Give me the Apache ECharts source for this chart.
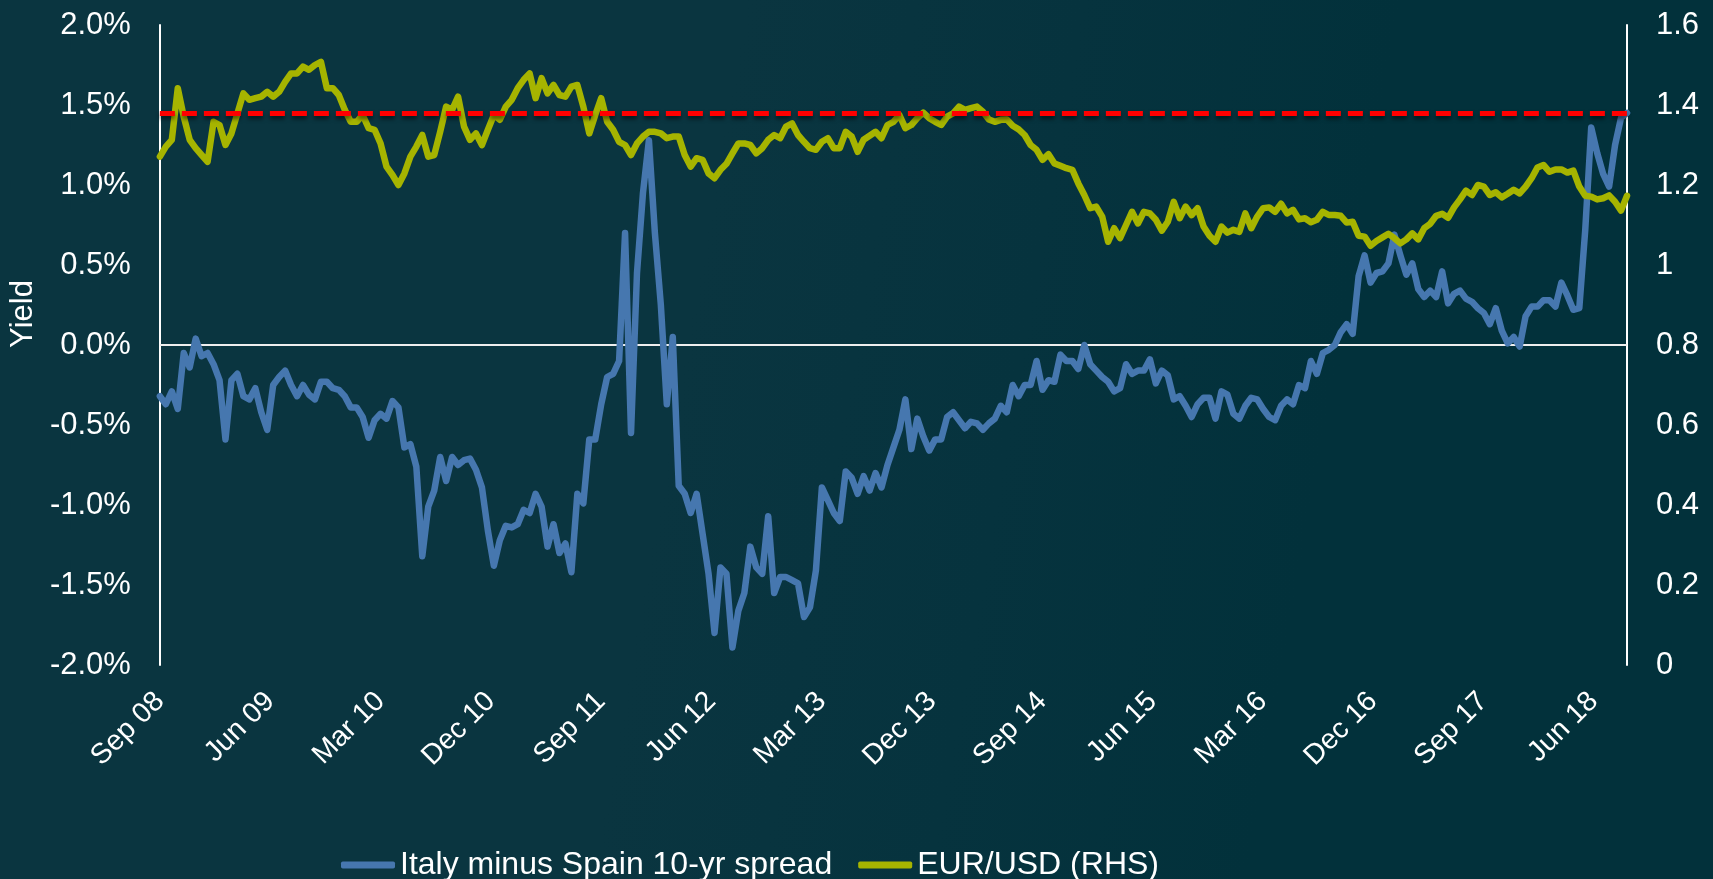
<!DOCTYPE html>
<html>
<head>
<meta charset="utf-8">
<script src="https://cdn.jsdelivr.net/npm/echarts@6.0.0/dist/echarts.min.js"></script>
<style>
html, body { margin: 0; padding: 0; background: #05323d; }
#chart { width: 1713px; height: 879px;
  background: linear-gradient(100deg, #0a3540 0%, #0a3540 40%, #06333e 58%, #02313b 75%, #02313b 100%); }
</style>
</head>
<body>
<div id="chart"></div>
<script>
// X-axis tick labels (every 9 months from Sep 2008)
const tickLabels = ['Sep 08','Jun 09','Mar 10','Dec 10','Sep 11','Jun 12','Mar 13','Dec 13','Sep 14','Jun 15','Mar 16','Dec 16','Sep 17','Jun 18'];
const tickStepMonths = 9;
// Whole span of the sampled series, in months after Sep 2008
const spanMonths = 119.73;

// Italy minus Spain 10-yr spread (%), sampled roughly every two weeks
const spread = [
-0.32,-0.37,-0.29,-0.40,-0.05,-0.14,0.04,-0.07,-0.05,-0.12,
-0.22,-0.59,-0.22,-0.18,-0.32,-0.34,-0.27,-0.42,-0.53,-0.25,
-0.20,-0.16,-0.25,-0.32,-0.25,-0.31,-0.34,-0.23,-0.23,-0.27,
-0.28,-0.32,-0.39,-0.39,-0.45,-0.58,-0.47,-0.43,-0.46,-0.35,
-0.39,-0.64,-0.62,-0.76,-1.32,-1.01,-0.91,-0.70,-0.85,-0.70,
-0.75,-0.72,-0.71,-0.78,-0.89,-1.16,-1.38,-1.22,-1.13,-1.14,
-1.12,-1.03,-1.05,-0.93,-1.01,-1.26,-1.12,-1.30,-1.24,-1.42,
-0.93,-0.99,-0.59,-0.59,-0.37,-0.20,-0.18,-0.10,0.70,-0.55,
0.45,0.95,1.28,0.70,0.25,-0.37,0.05,-0.88,-0.93,-1.05,
-0.93,-1.18,-1.43,-1.80,-1.39,-1.43,-1.89,-1.66,-1.55,-1.26,
-1.39,-1.43,-1.07,-1.55,-1.45,-1.45,-1.47,-1.49,-1.70,-1.64,
-1.41,-0.89,-0.97,-1.05,-1.10,-0.79,-0.83,-0.93,-0.82,-0.91,
-0.80,-0.89,-0.75,-0.64,-0.53,-0.34,-0.65,-0.46,-0.57,-0.66,
-0.59,-0.59,-0.45,-0.42,-0.47,-0.52,-0.48,-0.49,-0.53,-0.49,
-0.46,-0.38,-0.42,-0.25,-0.32,-0.25,-0.25,-0.10,-0.28,-0.22,
-0.23,-0.06,-0.10,-0.10,-0.15,0.00,-0.12,-0.16,-0.20,-0.23,
-0.29,-0.27,-0.12,-0.18,-0.16,-0.16,-0.09,-0.24,-0.16,-0.19,
-0.34,-0.32,-0.38,-0.45,-0.37,-0.33,-0.33,-0.46,-0.29,-0.31,
-0.43,-0.46,-0.38,-0.33,-0.34,-0.40,-0.45,-0.47,-0.38,-0.34,
-0.37,-0.25,-0.27,-0.10,-0.18,-0.05,-0.03,0.00,0.08,0.13,
0.07,0.43,0.56,0.39,0.45,0.46,0.51,0.69,0.56,0.44,
0.51,0.35,0.30,0.34,0.30,0.46,0.26,0.32,0.34,0.29,
0.27,0.23,0.20,0.13,0.23,0.09,0.01,0.05,-0.01,0.18,
0.24,0.24,0.28,0.28,0.24,0.39,0.31,0.22,0.23,0.72,
1.36,1.20,1.07,0.99,1.25,1.42,1.45
];

// EUR/USD (right-hand scale), same sampling
const eurusd = [
1.271,1.296,1.313,1.442,1.371,1.313,1.292,1.275,1.258,1.358,
1.350,1.300,1.329,1.379,1.429,1.413,1.417,1.421,1.433,1.421,
1.433,1.458,1.479,1.479,1.496,1.488,1.500,1.508,1.442,1.442,
1.425,1.388,1.358,1.358,1.375,1.342,1.338,1.304,1.246,1.225,
1.200,1.229,1.271,1.296,1.325,1.271,1.275,1.333,1.396,1.388,
1.421,1.346,1.313,1.329,1.300,1.338,1.375,1.363,1.396,1.413,
1.442,1.463,1.479,1.417,1.467,1.429,1.450,1.425,1.421,1.446,
1.450,1.396,1.329,1.375,1.417,1.358,1.338,1.308,1.300,1.275,
1.304,1.321,1.333,1.333,1.329,1.317,1.321,1.321,1.275,1.246,
1.267,1.263,1.229,1.217,1.238,1.253,1.279,1.304,1.304,1.300,
1.279,1.292,1.313,1.325,1.317,1.346,1.354,1.325,1.308,1.292,
1.288,1.308,1.317,1.292,1.292,1.333,1.321,1.283,1.313,1.323,
1.333,1.317,1.350,1.358,1.375,1.342,1.350,1.367,1.381,1.367,
1.358,1.350,1.371,1.379,1.396,1.388,1.392,1.396,1.383,1.364,
1.358,1.363,1.364,1.348,1.339,1.325,1.300,1.288,1.263,1.277,
1.254,1.248,1.242,1.238,1.204,1.175,1.142,1.146,1.121,1.058,
1.092,1.067,1.100,1.133,1.104,1.133,1.129,1.113,1.086,1.108,
1.158,1.117,1.146,1.125,1.142,1.096,1.073,1.058,1.096,1.081,
1.088,1.083,1.129,1.092,1.121,1.142,1.144,1.133,1.153,1.129,
1.138,1.114,1.117,1.107,1.113,1.133,1.125,1.125,1.123,1.106,
1.108,1.073,1.071,1.048,1.060,1.069,1.078,1.067,1.054,1.064,
1.079,1.064,1.092,1.103,1.123,1.128,1.118,1.144,1.164,1.186,
1.175,1.200,1.196,1.175,1.182,1.169,1.178,1.188,1.179,1.196,
1.217,1.244,1.250,1.233,1.239,1.239,1.231,1.236,1.196,1.173,
1.171,1.164,1.167,1.174,1.158,1.136,1.173
];

// Reference level drawn as red dashed line (RHS)
const eurusdReference = 1.375;

const step = spanMonths / (spread.length - 1);
const spreadData = spread.map((v, i) => [i * step, v]);
const eurusdData = eurusd.map((v, i) => [i * step, v]);

const FONT = '"Liberation Sans", Arial, sans-serif';
const TXT = '#ffffff';

const chart = echarts.init(document.getElementById('chart'), null, { renderer: 'canvas' });
chart.setOption({
  backgroundColor: 'transparent',
  animation: false,
  textStyle: { fontFamily: FONT },
  grid: { left: 153, right: 86, top: 25, bottom: 214, containLabel: false },
  legend: {
    data: ['Italy minus Spain 10-yr spread', 'EUR/USD (RHS)'],
    left: 336, top: 844,
    icon: 'roundRect', itemWidth: 54, itemHeight: 7, itemGap: 26,
    textStyle: { color: TXT, fontSize: 32, fontFamily: FONT }
  },
  xAxis: {
    type: 'value', min: 0, max: spanMonths, interval: tickStepMonths,
    axisLine: { show: false }, axisTick: { show: false }, splitLine: { show: false },
    axisLabel: {
      rotate: 45, margin: 32, color: TXT, fontSize: 28.5, fontFamily: FONT,
      formatter: v => {
        const k = Math.round(v / tickStepMonths);
        return Math.abs(v - k * tickStepMonths) < 1e-6 && tickLabels[k] ? tickLabels[k] : '';
      }
    }
  },
  yAxis: [
    {
      type: 'value', min: -2, max: 2, interval: 0.5, position: 'left',
      name: 'Yield', nameLocation: 'middle', nameRotate: 90, nameGap: 112,
      nameTextStyle: { color: TXT, fontSize: 31, fontFamily: FONT, padding: [0, 0, 0, 62] },
      axisLine: { show: true, lineStyle: { color: '#ffffff', width: 2 } },
      axisTick: { show: false }, splitLine: { show: false },
      axisLabel: { margin: 29, color: TXT, fontSize: 31, fontFamily: FONT, formatter: v => v.toFixed(1) + '%' }
    },
    {
      type: 'value', min: 0, max: 1.6, interval: 0.2, position: 'right',
      axisLine: { show: true, lineStyle: { color: '#ffffff', width: 2 } },
      axisTick: { show: false }, splitLine: { show: false },
      axisLabel: { margin: 29, color: TXT, fontSize: 31, fontFamily: FONT }
    }
  ],
  series: [
    {
      name: 'Italy minus Spain 10-yr spread', type: 'line', yAxisIndex: 0,
      data: spreadData, symbol: 'none', showSymbol: false, z: 3,
      itemStyle: { color: '#4677AF' },
      lineStyle: { color: '#4677AF', width: 6.5, cap: 'round', join: 'round' },
      markLine: {
        silent: true, symbol: 'none', z: 1, animation: false,
        label: { show: false },
        lineStyle: { color: '#eeeeee', width: 2, type: 'solid' },
        data: [{ yAxis: 0 }]
      }
    },
    {
      name: 'EUR/USD (RHS)', type: 'line', yAxisIndex: 1,
      data: eurusdData, symbol: 'none', showSymbol: false, z: 4,
      itemStyle: { color: '#A6B400' },
      lineStyle: { color: '#A6B400', width: 6.5, cap: 'round', join: 'round' },
      markLine: {
        silent: true, symbol: 'none', z: 10, animation: false,
        label: { show: false },
        lineStyle: { color: '#ff0000', width: 5, type: [15, 7], shadowBlur: 4, shadowColor: 'rgba(0,0,0,0.55)', shadowOffsetY: 3 },
        data: [{ yAxis: eurusdReference }]
      }
    }
  ]
});
</script>
</body>
</html>
